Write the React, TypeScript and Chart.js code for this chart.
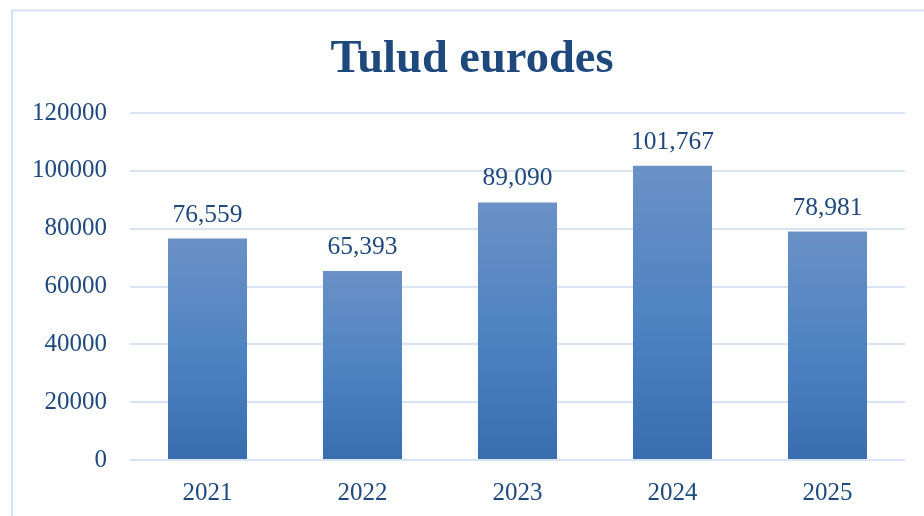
import React, { useEffect, useRef } from "react";
import { Chart, registerables } from "chart.js";

Chart.register(...registerables);

const TITLE = "Tulud eurodes";
const categories = ["2021", "2022", "2023", "2024", "2025"];
const revenue = [76559, 65393, 89090, 101767, 78981];
const yMin = 0;
const yMax = 120000;
const yStep = 20000;

const FONT = "'Liberation Serif', 'DejaVu Serif', serif";
const TEXT = "#1F497D";

const framePlugin = {
  id: "frame",
  beforeDraw(chart: any) {
    const c = chart.ctx;
    c.save();
    c.fillStyle = "#ffffff";
    c.fillRect(0, 0, chart.width, chart.height);
    c.strokeStyle = "#D5E2F3";
    c.lineWidth = 2;
    c.strokeRect(12, 10.5, chart.width + 20, chart.height + 20);
    c.restore();
  },
  afterDraw(chart: any) {
    const c = chart.ctx;
    c.save();
    c.fillStyle = TEXT;
    c.font = `bold 46.5px ${FONT}`;
    c.textAlign = "center";
    c.textBaseline = "alphabetic";
    c.fillText(TITLE, 472, 72);
    c.restore();
  },
};

const labelPlugin = {
  id: "barLabels",
  afterDatasetsDraw(chart: any) {
    const c = chart.ctx;
    const meta = chart.getDatasetMeta(0);
    const data = chart.data.datasets[0].data as number[];
    c.save();
    c.fillStyle = TEXT;
    c.font = `25.5px ${FONT}`;
    c.textAlign = "center";
    c.textBaseline = "alphabetic";
    meta.data.forEach((bar: any, i: number) => {
      c.fillText(data[i].toLocaleString("en-US"), bar.x, bar.y - 17);
    });
    c.restore();
  },
};

export default function App() {
  const ref = useRef<HTMLCanvasElement>(null);
  useEffect(() => {
    document.body.style.margin = "0";
    const chart = new Chart(ref.current!, {
      type: "bar",
      data: {
        labels: categories,
        datasets: [
          {
            data: revenue,
            backgroundColor: (ctx: any) => {
              const ch = ctx.chart;
              const ys = ch.scales && ch.scales.y;
              if (!ch.chartArea || !ys || typeof ctx.raw !== "number") return "#4F81BD";
              const top = ys.getPixelForValue(ctx.raw);
              const bottom = ys.getPixelForValue(0);
              const g = ch.ctx.createLinearGradient(0, top, 0, bottom);
              g.addColorStop(0, "#6A91C6");
              g.addColorStop(0.5, "#4F83C2");
              g.addColorStop(1, "#3A6DAF");
              return g;
            },
            borderWidth: 0,
            barPercentage: 0.51,
            categoryPercentage: 1.0,
          },
        ],
      },
      options: {
        responsive: false,
        animation: false,
        events: [],
        layout: { padding: { top: 113, right: 19, left: 0, bottom: 0 } },
        plugins: {
          legend: { display: false },
          title: { display: false },
          tooltip: { enabled: false },
        },
        scales: {
          x: {
            grid: { display: false },
            border: { display: false },
            ticks: { color: TEXT, font: { family: FONT, size: 25 }, padding: 10 },
            afterFit: (s: any) => {
              s.height = 56;
            },
          },
          y: {
            min: yMin,
            max: yMax,
            grid: { color: "#D9E4F3", lineWidth: 2, drawTicks: false },
            border: { display: false },
            ticks: {
              stepSize: yStep,
              color: TEXT,
              font: { family: FONT, size: 25 },
              padding: 23,
              callback: (v: any) => String(v),
            },
            afterFit: (s: any) => {
              s.width = 130;
            },
          },
        },
      },
      plugins: [framePlugin, labelPlugin],
    });
    return () => chart.destroy();
  }, []);
  return (
    <div style={{ width: 924, height: 516 }}>
      <canvas ref={ref} width={924} height={516} style={{ display: "block" }} />
    </div>
  );
}
